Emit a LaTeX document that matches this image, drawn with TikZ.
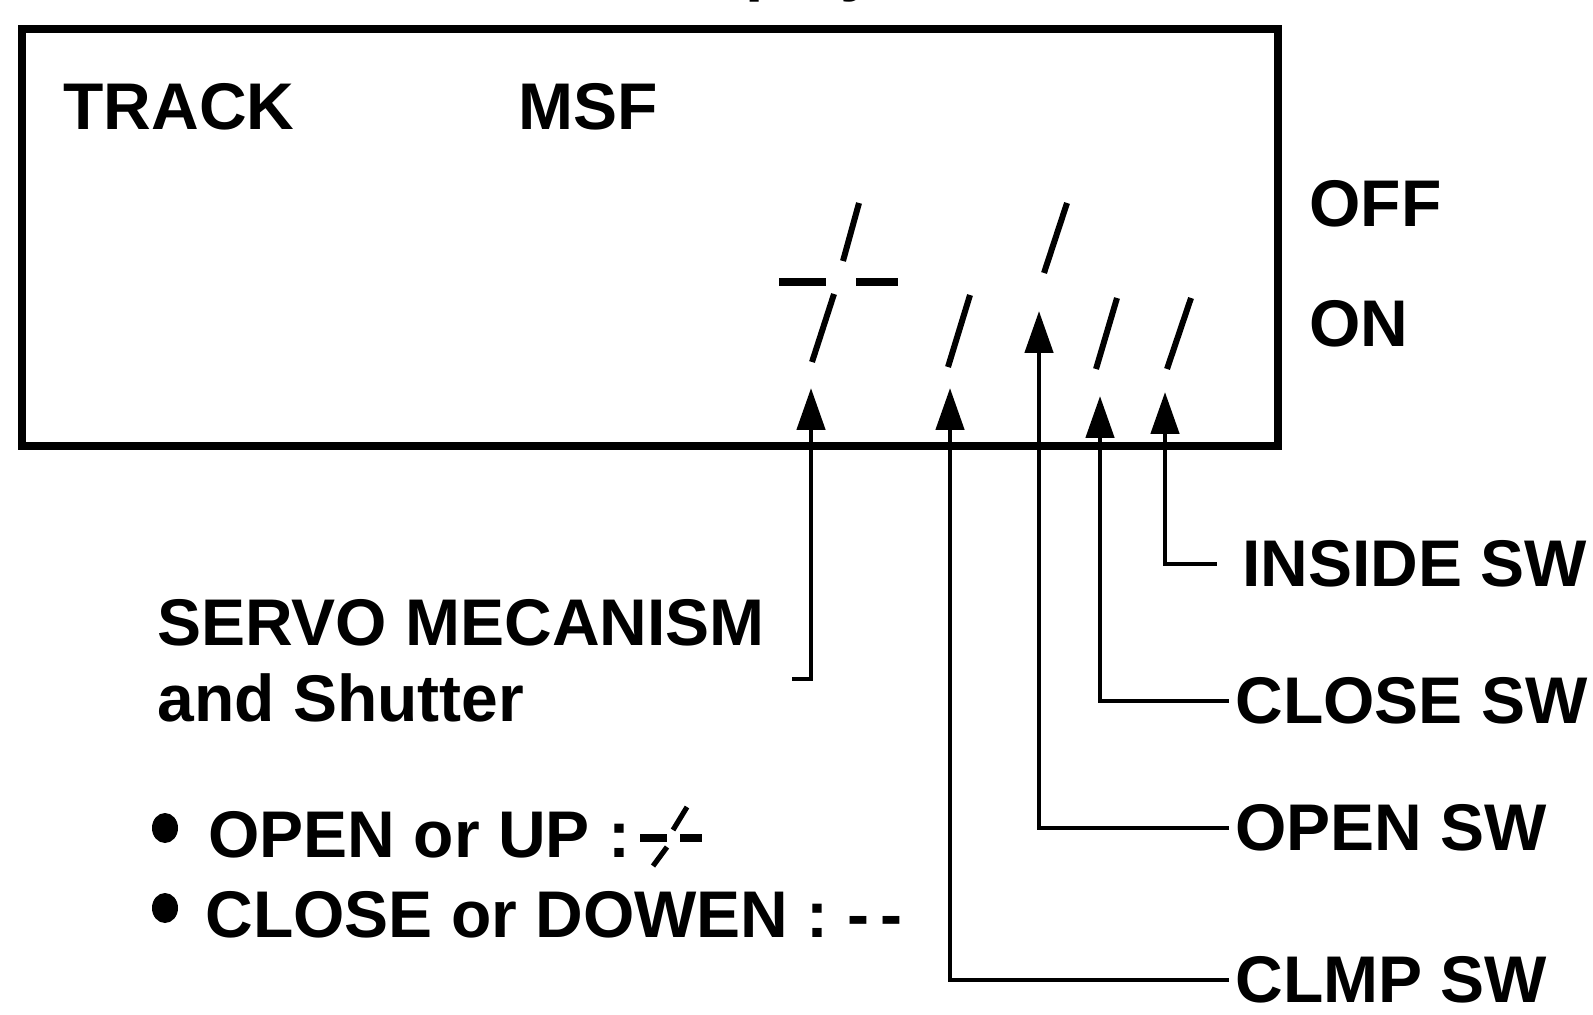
\documentclass[tikz,border=0pt]{standalone}
\usepackage{fontspec}
\setmainfont{Liberation Sans}
\usetikzlibrary{arrows.meta}
\begin{document}
\begin{tikzpicture}[x=0.5pt,y=-0.5pt,
  lbl/.style={inner sep=0pt,font=\fontsize{33}{40}\selectfont\bfseries},
  frame/.style={line width=4pt},
  conn/.style={line width=2.4pt},
  tipend/.style={{Triangle[length=21pt,width=14pt]}-},
  seg/.style={line width=3pt},
  dsh/.style={line width=3.6pt},
  mini/.style={line width=2.6pt},
  minidsh/.style={line width=4pt}]
\useasboundingbox (0,0) rectangle (1593,1015);
\clip (0,0) rectangle (1593,1015);

% partially cut title (only its descenders show)
\node[lbl,anchor=base west] (disp) at (642,-11) {Display};

% display frame
\draw[frame] (22,29) rectangle (1278,446);

% texts inside / beside the frame
\node[lbl,anchor=base west] (track) at (63,130) {TRACK};
\node[lbl,anchor=base west] (msf) at (518,130) {MSF};
\node[lbl,anchor=base west] (off) at (1309,227) {OFF};
\node[lbl,anchor=base west] (on) at (1309,347) {ON};

% segments
\draw[seg] (859,203) -- (843,261);
\draw[dsh] (779,282) -- (826,282);
\draw[dsh] (856,282) -- (898,282);
\draw[seg] (834,294) -- (812,362);
\draw[seg] (970,295) -- (948,367);
\draw[seg] (1067,203) -- (1044,273);
\draw[seg] (1117,298) -- (1096,369);
\draw[seg] (1191,298) -- (1167,369);

% arrow tips
\coordinate (t1) at (811,388);
\coordinate (t2) at (950,388);
\coordinate (t3) at (1039,311);
\coordinate (t4) at (1100,396);
\coordinate (t5) at (1165,392);

% labels
\node[lbl,anchor=base west] (servo) at (157,645) {SERVO MECANISM};
\node[lbl,anchor=base west] (shut) at (157,721) {and Shutter};
\coordinate (e1) at (792,679);

\node[lbl,anchor=west] (ins) at (1242,564) {INSIDE SW};
\node[lbl,anchor=west] (cls) at (1235,701) {CLOSE SW};
\node[lbl,anchor=west] (opn) at (1235,828) {OPEN SW};
\node[lbl,anchor=west] (clmp) at (1235,980) {CLMP SW};

% connectors
\draw[conn,tipend] (t1) |- (e1);
\draw[conn,tipend] (t2) |- ([xshift=-3pt]clmp.west);
\draw[conn,tipend] (t3) |- ([xshift=-3pt]opn.west);
\draw[conn,tipend] (t4) |- ([xshift=-3pt]cls.west);
\draw[conn,tipend] (t5) |- ([xshift=-12.5pt]ins.west);

% legend
\fill (165,828) ellipse [x radius=13, y radius=15];
\fill (165,908) ellipse [x radius=13, y radius=15];
\node[lbl,anchor=base west] (leg1) at (208,857) {OPEN or UP :};
\node[lbl,anchor=base west] (leg2) at (205,937) {CLOSE or DOWEN : {-}\,{-}};
\draw[minidsh] (640,838) -- (667,838);
\draw[minidsh] (680,838) -- (702,838);
\draw[mini] (687,807) -- (673,830);
\draw[mini] (667,847) -- (653,866);
\end{tikzpicture}
\end{document}
